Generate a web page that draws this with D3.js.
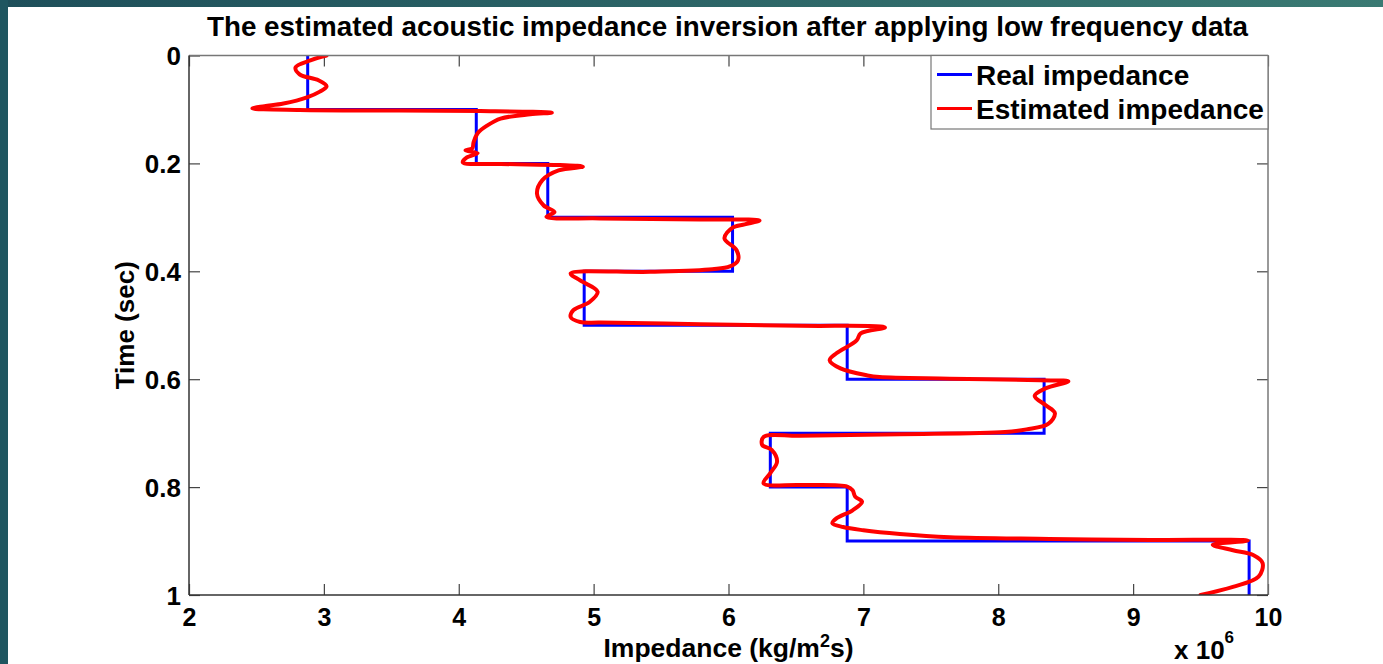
<!DOCTYPE html>
<html>
<head>
<meta charset="utf-8">
<script src="https://cdn.jsdelivr.net/npm/d3@7"></script>
<style>
  html, body { margin: 0; padding: 0; background: #fff; }
  svg { display: block; }
  text { font-family: "Liberation Sans", Arial, sans-serif; font-weight: bold; fill: #000; }
</style>
</head>
<body>
<svg id="chart" width="1383" height="664"></svg>
<script>
// ---------------- data ----------------
const chartTitle = "The estimated acoustic impedance inversion after applying low frequency data";
const seriesNames = ["Real impedance", "Estimated impedance"];
const xTicks = [2, 3, 4, 5, 6, 7, 8, 9, 10];
const yTicks = [0, 0.2, 0.4, 0.6, 0.8, 1];

// real (blocky) impedance: 10 layers of 0.1 s, x 10^6
const layerTop = [0, 0.1, 0.2, 0.3, 0.4, 0.5, 0.6, 0.7, 0.8, 0.9];
const layerBottom = [0.1, 0.2, 0.3, 0.4, 0.5, 0.6, 0.7, 0.8, 0.9, 1.0];
const realImpedance = [2.88, 4.13, 4.66, 6.03, 4.93, 6.88, 8.34, 6.31, 6.88, 9.86];

// estimated impedance trace (time s, impedance x 10^6)
const estTime = [
  0.000, 0.009, 0.022, 0.035, 0.046, 0.057, 0.067, 0.077, 0.089, 0.094, 0.098,
  0.101, 0.102, 0.103, 0.106,
  0.109, 0.117, 0.130, 0.144, 0.161, 0.172, 0.176, 0.181, 0.189, 0.198,
  0.201, 0.203, 0.206,
  0.213, 0.231, 0.256, 0.278, 0.290, 0.299,
  0.302, 0.304, 0.306,
  0.313, 0.319, 0.339, 0.361, 0.380, 0.391, 0.396,
  0.401, 0.404,
  0.417, 0.438, 0.457, 0.472, 0.485, 0.494, 0.495,
  0.498, 0.501, 0.504,
  0.515, 0.528, 0.552, 0.565, 0.580, 0.593, 0.596,
  0.599, 0.602, 0.604,
  0.617, 0.631, 0.648, 0.663, 0.683, 0.693, 0.698,
  0.702, 0.705, 0.707,
  0.722, 0.731, 0.753, 0.774, 0.793,
  0.796, 0.799,
  0.806, 0.818, 0.827, 0.843, 0.858, 0.867, 0.874, 0.880, 0.887, 0.893, 0.896, 0.898, 0.899,
  0.907, 0.917, 0.926, 0.941, 0.966, 0.985, 1.000
];
const estImpedance = [
  3.02, 2.90, 2.79, 2.82, 2.96, 3.02, 2.97, 2.88, 2.70, 2.56, 2.47,
  2.82, 3.56, 4.16, 4.69,
  4.53, 4.31, 4.21, 4.14, 4.11, 4.10, 4.05, 4.14, 4.06, 4.03,
  4.31, 4.75, 4.92,
  4.74, 4.62, 4.58, 4.63, 4.71, 4.65,
  5.05, 5.79, 6.23,
  6.12, 6.03, 5.97, 6.06, 6.07, 6.01, 5.88,
  5.42, 4.83,
  4.90, 5.03, 4.97, 4.85, 4.83, 4.90, 5.05,
  5.79, 6.53, 7.16,
  6.98, 6.95, 6.80, 6.75, 6.83, 7.03, 7.12,
  7.64, 8.31, 8.52,
  8.35, 8.27, 8.35, 8.42, 8.37, 8.21, 8.05,
  7.27, 6.53, 6.26,
  6.25, 6.32, 6.36, 6.31, 6.26,
  6.53, 6.88,
  6.92, 6.94, 6.99, 6.92, 6.80, 6.77, 6.85, 7.00, 7.27, 7.64, 8.38, 9.13, 9.85,
  9.59, 9.74, 9.89, 9.96, 9.93, 9.74, 9.50
];

// ---------------- drawing ----------------
const svg = d3.select("#chart");
const W = 1383, H = 664;
const pL = 189, pR = 1268, pT = 55.5, pB = 595;

const x = d3.scaleLinear().domain([2, 10]).range([pL, pR]);
const y = d3.scaleLinear().domain([0, 1]).range([pT, pB]);

// frame background (teal strips)
const defs = svg.append("defs");
const grad = defs.append("linearGradient").attr("id", "teal").attr("x1", "0").attr("x2", "1").attr("y1", "0").attr("y2", "0");
grad.append("stop").attr("offset", "0").attr("stop-color", "#1e4f5a");
grad.append("stop").attr("offset", "1").attr("stop-color", "#3a7a73");
svg.append("rect").attr("x", 0).attr("y", 0).attr("width", W).attr("height", H).attr("fill", "#fff");
svg.append("rect").attr("x", 0).attr("y", 0).attr("width", W).attr("height", 7).attr("fill", "url(#teal)");
svg.append("rect").attr("x", 0).attr("y", 0).attr("width", 8).attr("height", H).attr("fill", "#1f5660");

// title
svg.append("text").attr("x", (pL + pR) / 2 - 1).attr("y", 36)
  .attr("text-anchor", "middle").style("font-size", "27.8px").text(chartTitle);

// plot clip
defs.append("clipPath").attr("id", "plotclip").append("rect")
  .attr("x", pL).attr("y", pT).attr("width", pR - pL).attr("height", pB - pT);

// axes ticks (inward)
const tickLen = 11;
const gx = svg.append("g").attr("transform", `translate(0,${pB})`)
  .call(d3.axisBottom(x).tickValues(xTicks).tickSize(-tickLen).tickPadding(13).tickFormat(d3.format("d")));
const gxTop = svg.append("g").attr("transform", `translate(0,${pT})`)
  .call(d3.axisTop(x).tickValues(xTicks).tickSize(-tickLen).tickFormat(""));
const gy = svg.append("g").attr("transform", `translate(${pL},0)`)
  .call(d3.axisLeft(y).tickValues(yTicks).tickSize(-tickLen).tickPadding(8).tickFormat(d3.format("~g")));
const gyR = svg.append("g").attr("transform", `translate(${pR},0)`)
  .call(d3.axisRight(y).tickValues(yTicks).tickSize(-tickLen).tickFormat(""));
[gx, gxTop, gy, gyR].forEach(g => {
  g.select(".domain").remove();
  g.selectAll(".tick line").attr("stroke", "#444").attr("stroke-width", 1.2);
  g.selectAll(".tick text").attr("fill", "#000").style("font-size", "25px")
    .style("font-family", '"Liberation Sans", Arial, sans-serif').style("font-weight", "bold");
});
gy.selectAll(".tick text").attr("dy", "0.36em").style("font-size", "26px");

// data lines
const plot = svg.append("g").attr("clip-path", "url(#plotclip)");
const realPts = [];
realImpedance.forEach((v, i) => {
  realPts.push([v, layerTop[i]]);
  realPts.push([v, layerBottom[i]]);
});
const line = d3.line().x(d => x(d[0])).y(d => y(d[1]));
plot.append("path").datum(realPts).attr("d", line)
  .attr("fill", "none").attr("stroke", "#0000ff").attr("stroke-width", 3);

const estPts = estTime.map((t, i) => [estImpedance[i], t]);
const lineEst = d3.line().x(d => x(d[0])).y(d => y(d[1])).curve(d3.curveCatmullRom.alpha(0.5));
plot.append("path").datum(estPts).attr("d", lineEst)
  .attr("fill", "none").attr("stroke", "#ff0000").attr("stroke-width", 4)
  .attr("stroke-linejoin", "round").attr("stroke-linecap", "round");

// axes box
svg.append("line").attr("x1", pL).attr("x2", pR).attr("y1", pT).attr("y2", pT).attr("stroke", "#777").attr("stroke-width", 1.5);
svg.append("line").attr("x1", pR).attr("x2", pR).attr("y1", pT).attr("y2", pB).attr("stroke", "#777").attr("stroke-width", 1.5);
svg.append("line").attr("x1", pL).attr("x2", pR).attr("y1", pB).attr("y2", pB).attr("stroke", "#333").attr("stroke-width", 1.5);
svg.append("line").attr("x1", pL).attr("x2", pL).attr("y1", pT).attr("y2", pB).attr("stroke", "#333").attr("stroke-width", 1.5);

// legend
const lg = svg.append("g");
const lgX = 931, lgY = pT, lgW = pR - 931, lgH = 73.5;
lg.append("rect").attr("x", lgX).attr("y", lgY).attr("width", lgW).attr("height", lgH)
  .attr("fill", "#fff").attr("stroke", "#777").attr("stroke-width", 1.2);
const legColors = ["#0000ff", "#ff0000"];
seriesNames.forEach((name, i) => {
  const cy = lgY + 19 + i * 34;
  lg.append("line").attr("x1", lgX + 6).attr("x2", lgX + 41).attr("y1", cy).attr("y2", cy)
    .attr("stroke", legColors[i]).attr("stroke-width", 3);
  lg.append("text").attr("x", lgX + 45).attr("y", cy + 10).style("font-size", "28px").text(name);
});

// axis labels
const xl = svg.append("text").attr("x", (pL + pR) / 2).attr("y", 657)
  .attr("text-anchor", "middle").style("font-size", "26.5px");
xl.append("tspan").text("Impedance (kg/m");
xl.append("tspan").attr("dy", -10).style("font-size", "18px").text("2");
xl.append("tspan").attr("dy", 10).text("s)");

svg.append("text").attr("transform", `translate(134,${(pT + pB) / 2}) rotate(-90)`)
  .attr("text-anchor", "middle").style("font-size", "26px").text("Time (sec)");

const ex = svg.append("text").attr("x", 1174).attr("y", 659).style("font-size", "26px");
ex.append("tspan").text("x 10");
ex.append("tspan").attr("dy", -16).style("font-size", "17px").text("6");
</script>
</body>
</html>
